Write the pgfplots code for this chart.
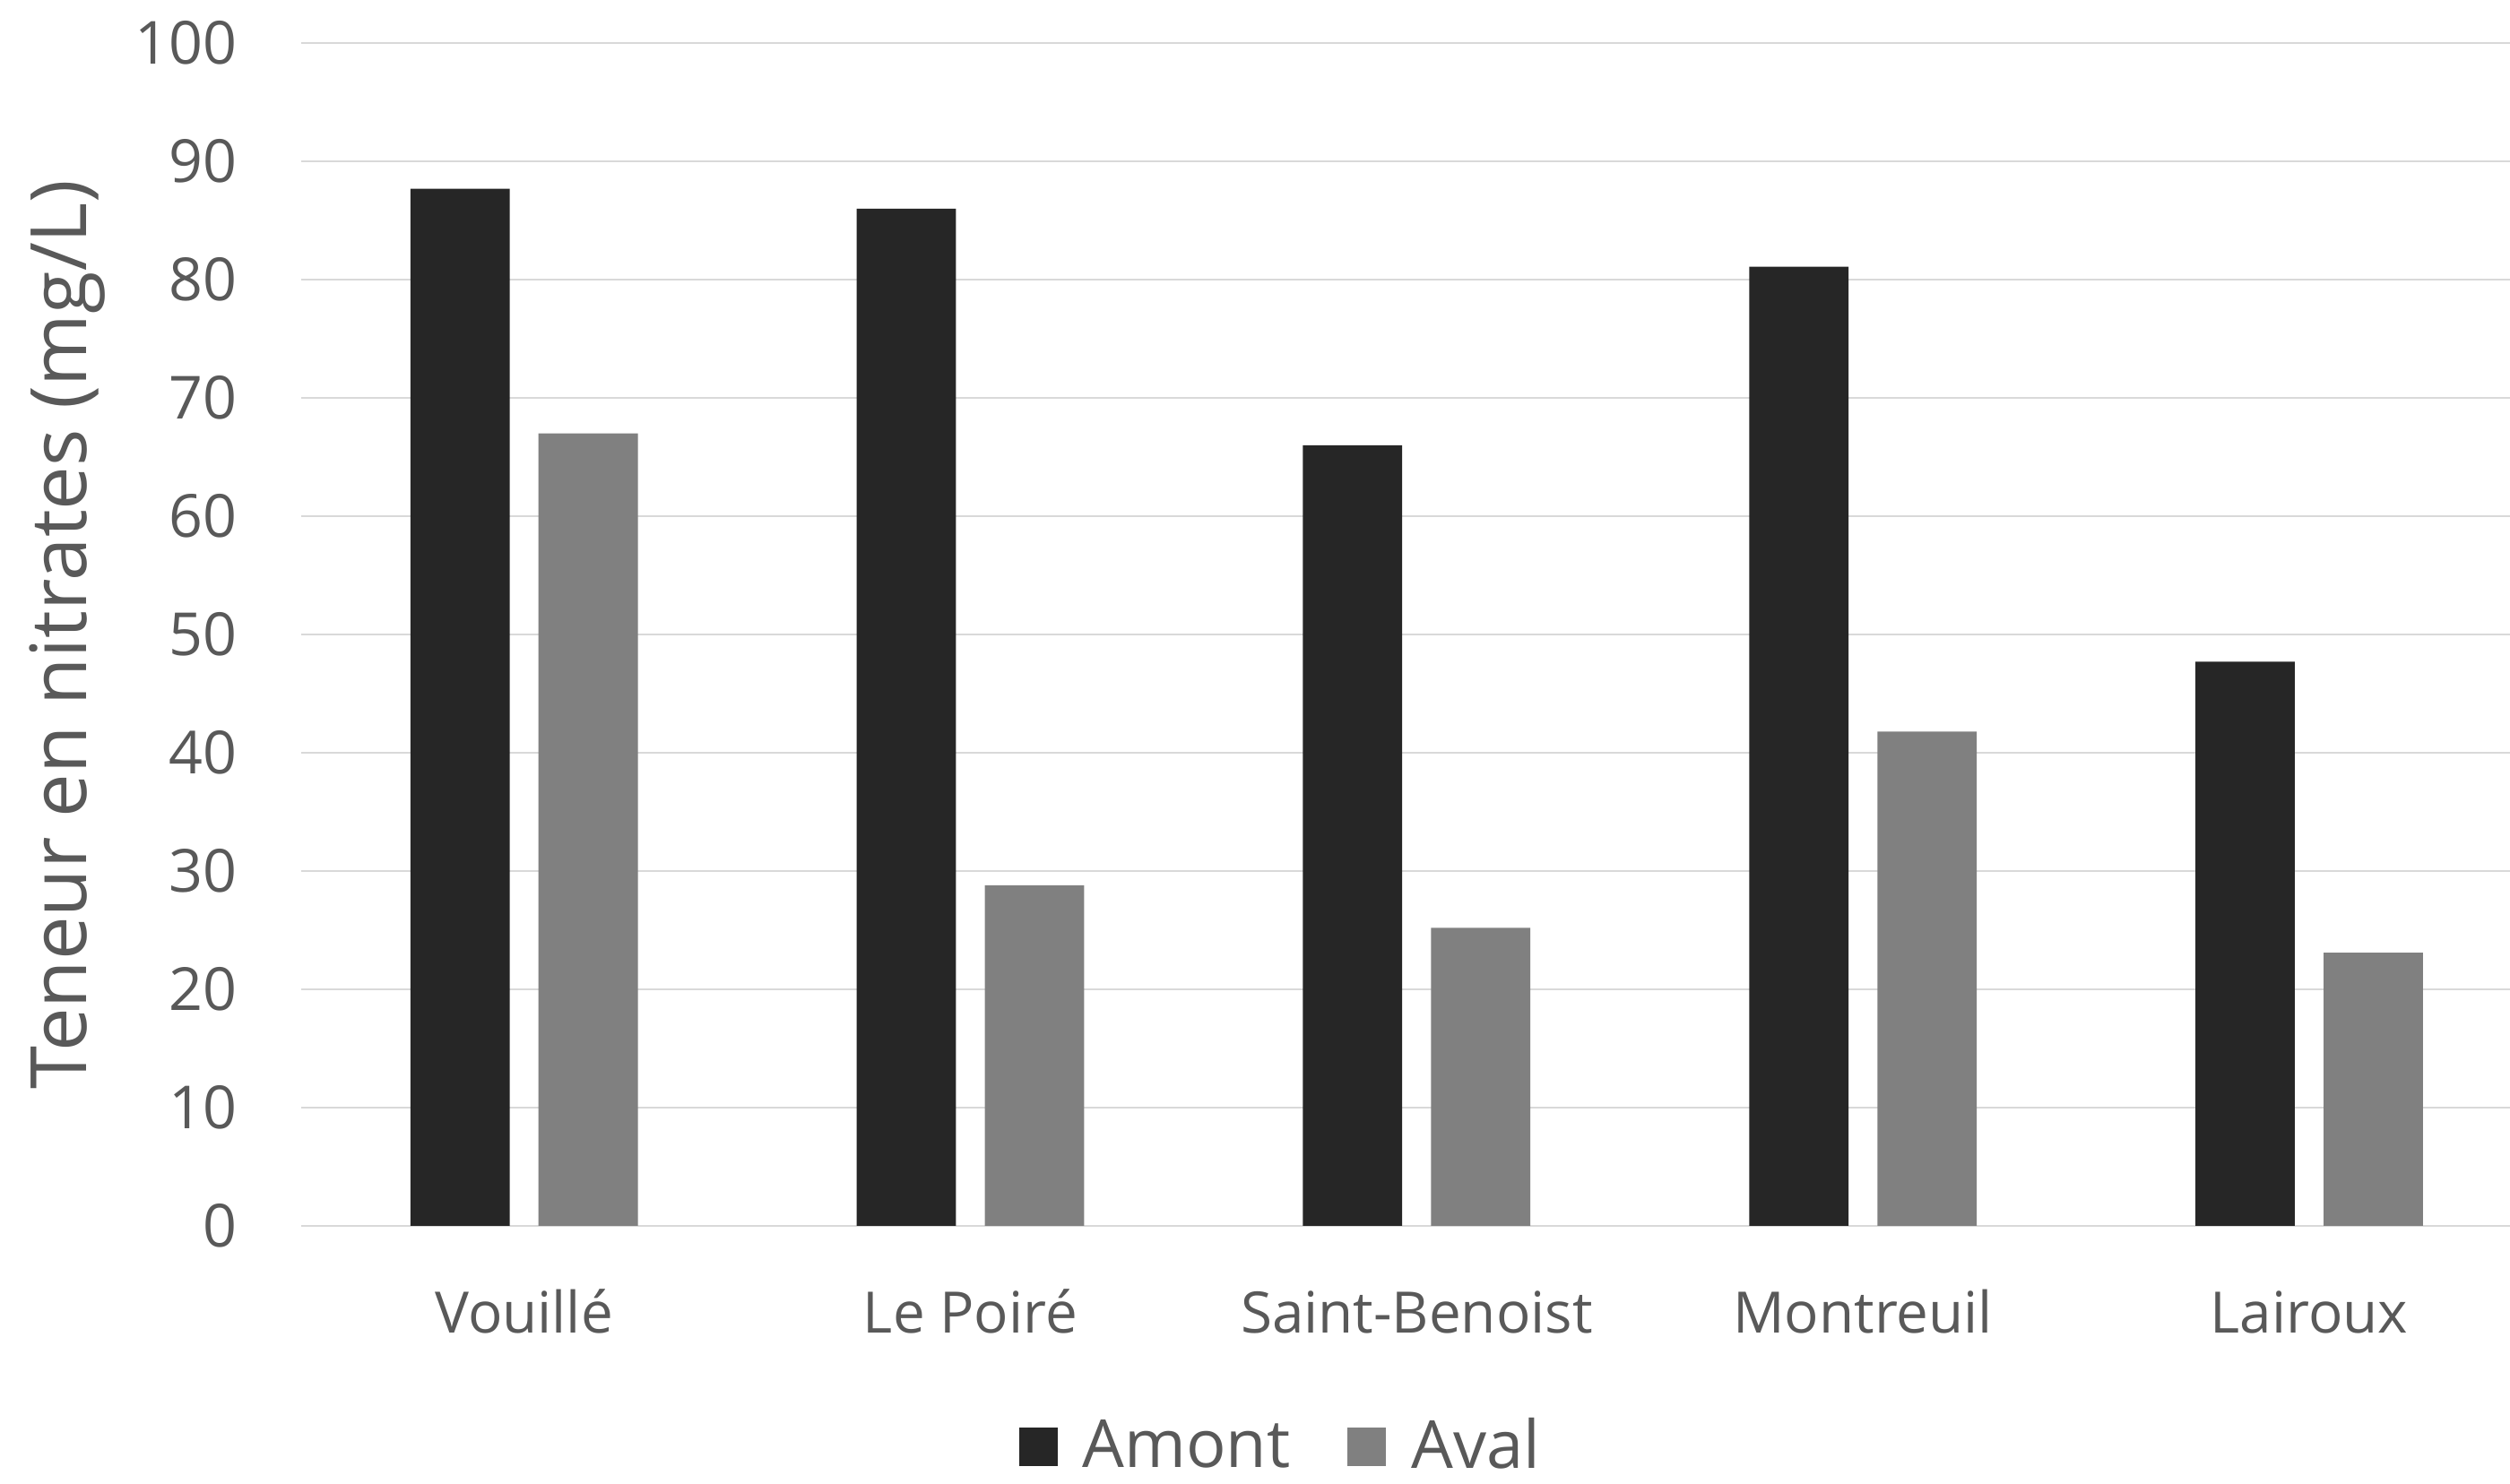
\documentclass[border=0pt]{standalone}
\usepackage{pgfplots}
\pgfplotsset{compat=1.18}
\usepackage{fontspec}
\setmainfont{Open Sans}
\definecolor{amont}{HTML}{262626}
\definecolor{aval}{HTML}{808080}
\definecolor{txt}{HTML}{595959}
\definecolor{gridc}{HTML}{D9D9D9}
\begin{document}
\begin{tikzpicture}
\path[use as bounding box] (0,0) rectangle (548.8pt,324.45pt);
\begin{axis}[
  at={(65.8pt,56.35pt)}, anchor=south west,
  scale only axis, width=483pt, height=258.65pt,
  xmin=-0.5, xmax=4.45, ymin=0, ymax=100,
  ytick={0,10,...,100},
  xtick={0,1,2,3,4},
  xticklabels={Vouillé,Le Poiré,Saint-Benoist,Montreuil,Lairoux},
  axis line style={draw=none},
  tick style={draw=none},
  ymajorgrids, major grid style={gridc, line width=0.45pt},
  /pgf/number format/assume math mode=true,
  yticklabel style={font=\fontsize{13}{15}\selectfont, text=txt, anchor=east, xshift=-10.5pt},
  xticklabel style={font=\fontsize{12.5}{14}\selectfont, text=txt, anchor=base, yshift=-19.1pt},
  ylabel={Teneur en nitrates (mg/L)},
  ylabel style={font=\fontsize{17}{20}\selectfont, text=txt, at={(axis description cs:-0.1058,0.5)}, anchor=center, rotate=0},
  ybar, bar width=0.2225,
  legend columns=2,
  legend style={at={(axis description cs:0.4435,-0.187)}, anchor=center, draw=none, fill=none,
    font=\fontsize{14.5}{17}\selectfont, text=txt,
    nodes={inner sep=0.5pt},
    /tikz/every odd column/.append style={column sep=5pt},
    /tikz/every even column/.append style={column sep=12pt}},
  legend image code/.code={\fill[#1] (0pt,-4.2pt) rectangle (8.4pt,4.2pt);},
]
\addplot[fill=amont, draw=none, bar shift=-0.1436] coordinates {(0,87.7) (1,86) (2,66) (3,81.1) (4,47.7)};
\addplot[fill=aval, draw=none, bar shift=0.1436] coordinates {(0,67) (1,28.8) (2,25.2) (3,41.8) (4,23.1)};
\legend{Amont,Aval}
\end{axis}
\end{tikzpicture}
\end{document}
